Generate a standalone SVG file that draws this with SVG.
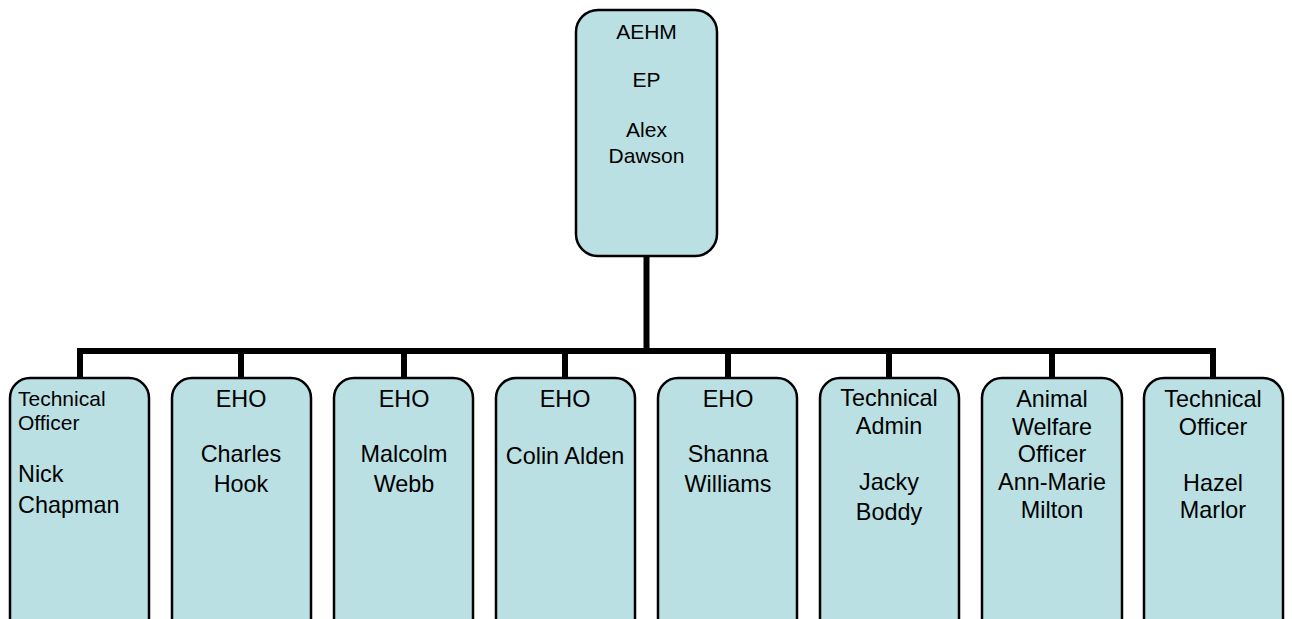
<svg xmlns="http://www.w3.org/2000/svg" width="1292" height="619" viewBox="0 0 1292 619">
<style>
.box{fill:#BBE0E3;stroke:#000;stroke-width:2.5}
.t{font-family:"Liberation Sans",Arial,sans-serif;font-size:23.4px;fill:#000;text-anchor:middle}
.s{font-family:"Liberation Sans",Arial,sans-serif;font-size:21px;fill:#000}
.c{text-anchor:middle}
.conn{fill:none;stroke:#000;stroke-width:6}
</style>
<rect width="1292" height="619" fill="#fff"/>
<g id="connectors">
<path class="conn" d="M646.5 256 V351"/>
<path class="conn" d="M77 351 H1216"/>
<path class="conn" d="M80 351 V378 M241 351 V378 M404 351 V378 M565 351 V378 M728 351 V378 M889 351 V378 M1052 351 V378 M1213 351 V378"/>
</g>
<g id="n0">
<rect class="box" x="576" y="10" width="141" height="246" rx="22"/>
<text class="s c" x="646.5" y="39">AEHM</text>
<text class="s c" x="646.5" y="87">EP</text>
<text class="s c" x="646.5" y="137">Alex</text>
<text class="s c" x="646.5" y="163">Dawson</text>
</g>
<g id="n1">
<rect class="box" x="10" y="378" width="139" height="270" rx="20"/>
<text class="s" x="18" y="406">Technical</text>
<text class="s" x="18" y="430">Officer</text>
<text class="t" x="18" y="482" text-anchor="start" style="text-anchor:start">Nick</text>
<text class="t" x="18" y="513" style="text-anchor:start">Chapman</text>
</g>
<g id="n2">
<rect class="box" x="172" y="378" width="139" height="270" rx="20"/>
<text class="t" x="241" y="407">EHO</text>
<text class="t" x="241" y="462">Charles</text>
<text class="t" x="241" y="492">Hook</text>
</g>
<g id="n3">
<rect class="box" x="334" y="378" width="139" height="270" rx="20"/>
<text class="t" x="404" y="407">EHO</text>
<text class="t" x="404" y="462">Malcolm</text>
<text class="t" x="404" y="492">Webb</text>
</g>
<g id="n4">
<rect class="box" x="496" y="378" width="139" height="270" rx="20"/>
<text class="t" x="565" y="407">EHO</text>
<text class="t" x="565" y="464">Colin Alden</text>
</g>
<g id="n5">
<rect class="box" x="658" y="378" width="139" height="270" rx="20"/>
<text class="t" x="728" y="407">EHO</text>
<text class="t" x="728" y="462">Shanna</text>
<text class="t" x="728" y="492">Williams</text>
</g>
<g id="n6">
<rect class="box" x="820" y="378" width="139" height="270" rx="20"/>
<text class="t" x="889" y="406">Technical</text>
<text class="t" x="889" y="434">Admin</text>
<text class="t" x="889" y="490">Jacky</text>
<text class="t" x="889" y="520">Boddy</text>
</g>
<g id="n7">
<rect class="box" x="982" y="378" width="140" height="270" rx="20"/>
<text class="t" x="1052" y="407">Animal</text>
<text class="t" x="1052" y="435">Welfare</text>
<text class="t" x="1052" y="462">Officer</text>
<text class="t" x="1052" y="490">Ann-Marie</text>
<text class="t" x="1052" y="518">Milton</text>
</g>
<g id="n8">
<rect class="box" x="1144" y="378" width="139" height="270" rx="20"/>
<text class="t" x="1213" y="407">Technical</text>
<text class="t" x="1213" y="435">Officer</text>
<text class="t" x="1213" y="491">Hazel</text>
<text class="t" x="1213" y="518">Marlor</text>
</g>
</svg>
